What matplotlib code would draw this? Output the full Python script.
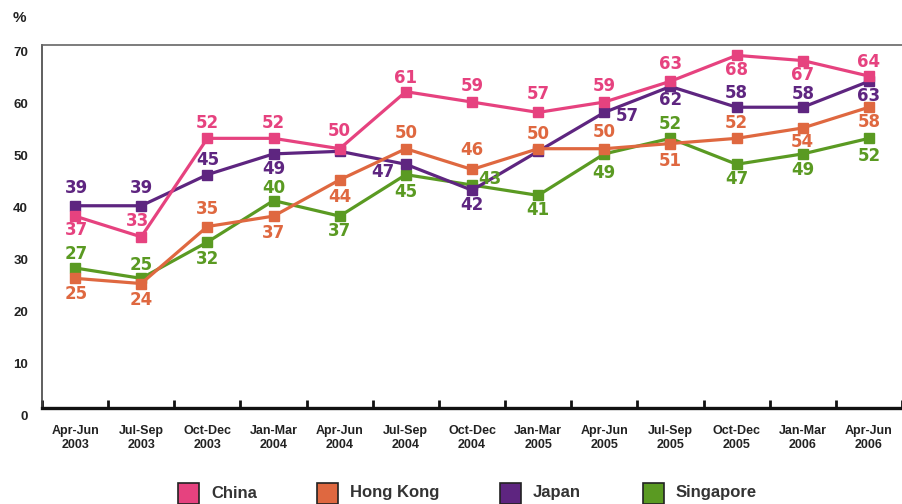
import numpy as np
import matplotlib
matplotlib.use("Agg")
import matplotlib.pyplot as plt
from matplotlib.patches import Rectangle
from matplotlib.transforms import ScaledTranslation

quarters = ["Apr-Jun\n2003", "Jul-Sep\n2003", "Oct-Dec\n2003", "Jan-Mar\n2004",
            "Apr-Jun\n2004", "Jul-Sep\n2004", "Oct-Dec\n2004", "Jan-Mar\n2005",
            "Apr-Jun\n2005", "Jul-Sep\n2005", "Oct-Dec\n2005", "Jan-Mar\n2006",
            "Apr-Jun\n2006"]

china = [37, 33, 52, 52, 50, 61, 59, 57, 59, 63, 68, 67, 64]
hong_kong = [25, 24, 35, 37, 44, 50, 46, 50, 50, 51, 52, 54, 58]
japan = [39, 39, 45, 49, 49.5, 47, 42, 49.5, 57, 62, 58, 58, 63]
singapore = [27, 25, 32, 40, 37, 45, 43, 41, 49, 52, 47, 49, 52]

# which points carry a printed value (Japan's two hidden ones sit under other markers)
japan_shown = [1, 1, 1, 1, 0, 1, 1, 0, 1, 1, 1, 1, 1]

y_ticks = [0, 10, 20, 30, 40, 50, 60, 70]

# label offsets in pixels (dx, dy), positive dy = upwards
china_off = [(1, -14), (-4, 16), (0, 15), (0, 15), (0, 18), (0, 14), (0, 16),
             (0, 18), (0, 16), (0, 17), (0, -15), (0, -14), (0, 14)]
hk_off = [(1, -16), (0, -16), (0, 18), (0, -17), (0, -17), (0, 16), (0, 19),
          (0, 15), (0, 17), (0, -17), (0, 15), (0, -14), (0, -15)]
japan_off = [(1, 18), (0, 18), (0, 15), (0, -15), (0, 0), (-23, -8), (0, -15),
             (0, 0), (23, -4), (0, -14), (0, 14), (0, 13), (0, -15)]
sing_off = [(1, 14), (0, 13), (0, -17), (0, 13), (0, -15), (0, -17), (18, 6),
            (0, -15), (0, -19), (0, 14), (0, -15), (0, -16), (0, -18)]

C_CHINA = "#E6427F"
C_HK = "#DF6840"
C_JAPAN = "#5E2580"
C_SING = "#5A9A22"

FONT = "Liberation Sans"
VALUE_FONT = "DejaVu Sans"

W, H = 902, 504
fig = plt.figure(figsize=(W / 100, H / 100), dpi=100)
ax = fig.add_axes([42 / W, 1 - 408 / H, 1 - 42 / W, (408 - 45) / H])

x = np.arange(len(quarters))

series = [
    ("Singapore", singapore, C_SING, sing_off, [1] * 13),
    ("Japan", japan, C_JAPAN, japan_off, japan_shown),
    ("Hong Kong", hong_kong, C_HK, hk_off, [1] * 13),
    ("China", china, C_CHINA, china_off, [1] * 13),
]

for i, (name, vals, col, offs, shown) in enumerate(series):
    ax.plot(x, vals, color=col, lw=2.3, marker="s", ms=6.5, mec=col, mfc=col,
            zorder=3 + i, clip_on=False)

for i, (name, vals, col, offs, shown) in enumerate(series):
    for xi, v, (dx, dy), s in zip(x, vals, offs, shown):
        if not s:
            continue
        ax.annotate(f"{v:g}", (xi, v), xytext=(dx, dy), textcoords="offset pixels",
                    ha="center", va="center", fontsize=12, fontweight="bold",
                    family=VALUE_FONT, color=col, zorder=10)

ax.set_xlim(-0.5, 12.37)
ax.set_ylim(0, 70)

ax.set_xticks(x)
ax.set_xticklabels(quarters, fontsize=9, fontweight="bold", family=FONT,
                   color="#222222", linespacing=1.25)
ax.set_xticks(np.arange(-0.5, 13, 1), minor=True)
ax.tick_params(axis="x", which="major", length=0, pad=12)
ax.tick_params(axis="x", which="minor", direction="in", length=5.5, width=2,
               color="#111111")

ax.set_yticks(y_ticks)
ax.set_yticklabels([str(v) for v in y_ticks], fontsize=9.5, fontweight="bold",
                   family=FONT, color="#222222")
ax.tick_params(axis="y", length=0, pad=10)
shift = ScaledTranslation(0, -0.07, fig.dpi_scale_trans)
for lab in ax.get_yticklabels():
    lab.set_transform(lab.get_transform() + shift)

ax.spines["right"].set_visible(False)
ax.spines["left"].set_color("#444444")
ax.spines["left"].set_linewidth(1.2)
ax.spines["top"].set_color("#666666")
ax.spines["top"].set_linewidth(1.2)
ax.spines["bottom"].set_color("#111111")
ax.spines["bottom"].set_linewidth(2.4)

fig.text(19 / W, 1 - 18 / H, "%", ha="center", va="center", fontsize=11,
         fontweight="bold", family=FONT, color="#222222")

# legend row along the bottom edge
legend_items = [("China", C_CHINA, 178), ("Hong Kong", C_HK, 317),
                ("Japan", C_JAPAN, 500), ("Singapore", C_SING, 643)]
for name, col, px in legend_items:
    fig.add_artist(Rectangle((px / W, 1 - 504 / H), 21 / W, 21 / H,
                             transform=fig.transFigure, facecolor=col,
                             edgecolor="#222222", lw=1.2))
    fig.text((px + 33) / W, 1 - 493 / H, name, ha="left", va="center",
             fontsize=12, fontweight="bold", family=FONT, color="#333333")

fig.savefig("out.png", dpi=100)
